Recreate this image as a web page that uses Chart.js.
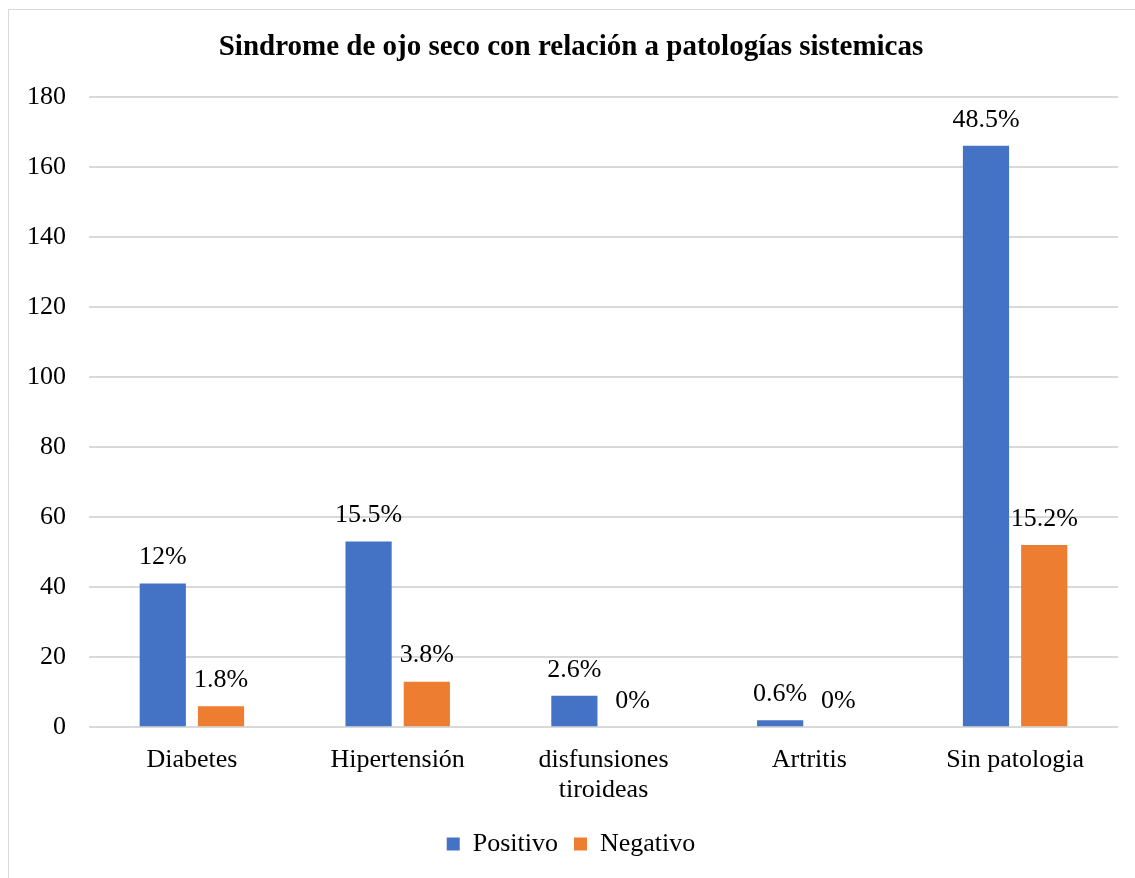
<!DOCTYPE html>
<html>
<head>
<meta charset="utf-8">
<script src="https://cdn.jsdelivr.net/npm/chart.js@4.4.1/dist/chart.umd.min.js"></script>
<style>
  html, body { margin: 0; padding: 0; background: #fff; }
  #wrap { width: 1135px; height: 878px; position: relative; }
</style>
</head>
<body>
<div id="wrap"><canvas id="chart"></canvas></div>
<script>
'use strict';

const categories = ['Diabetes', 'Hipertensión', ['disfunsiones', 'tiroideas'], 'Artritis', 'Sin patologia'];
const positivo = [41, 53, 9, 2, 166];
const negativo = [6, 13, 0, 0, 52];
const positivoLabels = ['12%', '15.5%', '2.6%', '0.6%', '48.5%'];
const negativoLabels = ['1.8%', '3.8%', '0%', '0%', '15.2%'];
const yTicks = { min: 0, max: 180, step: 20 };

const FONT = '"Liberation Serif", "Times New Roman", serif';

const frame = {
  id: 'frame',
  beforeDraw(chart) {
    const c = chart.ctx;
    c.save();
    c.strokeStyle = '#d9d9d9';
    c.lineWidth = 1;
    c.beginPath();
    c.moveTo(8.5, 900);
    c.lineTo(8.5, 9.5);
    c.lineTo(1200, 9.5);
    c.stroke();
    c.restore();
  }
};

const valueLabels = {
  id: 'valueLabels',
  afterDatasetsDraw(chart) {
    const c = chart.ctx;
    const texts = [positivoLabels, negativoLabels];
    c.save();
    c.font = '26px ' + FONT;
    c.fillStyle = '#000';
    c.textAlign = 'center';
    c.textBaseline = 'middle';
    chart.data.datasets.forEach((ds, i) => {
      chart.getDatasetMeta(i).data.forEach((bar, j) => {
        c.fillText(texts[i][j], bar.x, bar.y - 26);
      });
    });
    c.restore();
  }
};

new Chart(document.getElementById('chart').getContext('2d'), {
  type: 'bar',
  data: {
    labels: categories,
    datasets: [{
      label: 'Positivo',
      data: positivo,
      backgroundColor: '#4472c4',
      categoryPercentage: 0.566,
      barPercentage: 0.793
    }, {
      label: 'Negativo',
      data: negativo,
      backgroundColor: '#ed7d31',
      categoryPercentage: 0.566,
      barPercentage: 0.793
    }]
  },
  options: {
    animation: false,
    responsive: true,
    maintainAspectRatio: false,
    layout: { padding: { left: 24, right: 17, top: 25, bottom: 11 } },
    scales: {
      x: {
        grid: { display: false },
        border: { display: false },
        ticks: { color: '#000', font: { family: FONT, size: 26, lineHeight: 1.15 }, padding: 10, maxRotation: 0, autoSkip: false }
      },
      y: {
        min: yTicks.min,
        max: yTicks.max,
        afterFit: s => { s.width = 65; },
        grid: { color: '#d9d9d9', lineWidth: 2, drawTicks: false },
        border: { display: false },
        ticks: { stepSize: yTicks.step, color: '#000', font: { family: FONT, size: 26 }, padding: 23 }
      }
    },
    plugins: {
      title: {
        display: true,
        text: 'Sindrome de ojo seco con relación a patologías sistemicas',
        color: '#000',
        font: { family: FONT, size: 29, weight: 'bold' },
        padding: { top: 5, bottom: 32 }
      },
      legend: {
        position: 'bottom',
        labels: { color: '#000', font: { family: FONT, size: 26 }, boxWidth: 13, boxHeight: 13, padding: 16 }
      },
      tooltip: { enabled: false }
    }
  },
  plugins: [frame, valueLabels]
});
</script>
</body>
</html>
